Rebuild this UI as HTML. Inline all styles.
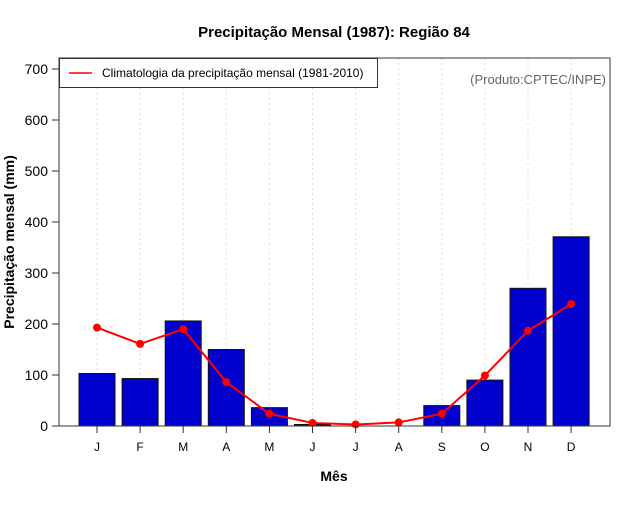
<!DOCTYPE html>
<html><head><meta charset="utf-8"><style>
body{margin:0;background:#fff;}
svg text{font-family:"Liberation Sans",sans-serif;}
</style></head><body>
<svg id="chart" width="640" height="500" xmlns="http://www.w3.org/2000/svg"></svg>
<script>
const months = ["J","F","M","A","M","J","J","A","S","O","N","D"];
const precip = [103, 93, 206, 150, 36, 3, 0, 0, 40, 90, 270, 371];
const climatology = [193, 161, 190, 86, 24, 6, 3, 7, 24, 99, 187, 239];
const yTicks = [0,100,200,300,400,500,600,700];

const NS="http://www.w3.org/2000/svg";
const svg=document.getElementById('chart');
const L=59,R=610,T=58,B=426;
const x0=97,step=43.1;
function xs(i){return x0+i*step;}
function ys(v){return B-v*0.51;}
function el(tag,attrs,parent){const e=document.createElementNS(NS,tag);for(const k in attrs)e.setAttribute(k,attrs[k]);(parent||svg).appendChild(e);return e;}

// title
let t=el('text',{x:334,y:37,'text-anchor':'middle','font-size':15,'font-weight':'bold',fill:'#000'});


t.textContent='Precipitação Mensal (1987): Região 84';

// grid
months.forEach((m,i)=>{
  const g=el('line',{x1:xs(i),x2:xs(i),y1:T,y2:B,stroke:'#ddd','stroke-dasharray':'2,3'});
  
  
});

// bars
precip.forEach((v,i)=>{
  if(v<=0) return;
  const b=el('rect',{x:xs(i)-18,y:ys(v),width:36,height:B-ys(v),fill:'#0000cd',stroke:'#111','stroke-width':1});
  
  
});

// line
const pts=climatology.map((v,i)=>xs(i)+','+ys(v)).join(' ');
const pl=el('polyline',{points:pts,fill:'none',stroke:'#f00','stroke-width':2});


climatology.forEach((v,i)=>{
  const c=el('circle',{cx:xs(i),cy:ys(v),r:4,fill:'#f00'});
  
  
});

// frame
const fr=el('rect',{x:L,y:T,width:R-L,height:B-T,fill:'none',stroke:'#333','stroke-width':1});



// y axis
yTicks.forEach(v=>{
  const tk=el('line',{x1:L-7,x2:L,y1:ys(v),y2:ys(v),stroke:'#333'});
  
  
  const lb=el('text',{x:L-11,y:ys(v)+5,'text-anchor':'end','font-size':14,fill:'#000'});
  
  
  lb.textContent=v;
});
// x axis
months.forEach((m,i)=>{
  const tk=el('line',{x1:xs(i),x2:xs(i),y1:B,y2:B+7,stroke:'#333'});
  
  
  const lb=el('text',{x:xs(i),y:B+25,'text-anchor':'middle','font-size':12,fill:'#000'});
  
  
  lb.textContent=m;
});
let xt=el('text',{x:334,y:481,'text-anchor':'middle','font-size':14,'font-weight':'bold'});


xt.textContent='Mês';
let yt=el('text',{x:0,y:0,'text-anchor':'middle','font-size':14,'font-weight':'bold',transform:'translate(14,242) rotate(-90)'});


yt.textContent='Precipitação mensal (mm)';

// legend
const lg=el('g',{});


el('rect',{x:59.5,y:58.5,width:318,height:29,fill:'#fff',stroke:'#333'},lg);
el('line',{x1:69,x2:92,y1:73,y2:73,stroke:'#f00','stroke-width':1.5},lg);
const lt=el('text',{x:102,y:77,'font-size':12,fill:'#000'},lg);
lt.textContent='Climatologia da precipitação mensal (1981-2010)';

let cr=el('text',{x:606,y:84,'text-anchor':'end','font-size':13,fill:'#666'});


cr.textContent='(Produto:CPTEC/INPE)';
</script>
</body></html>
